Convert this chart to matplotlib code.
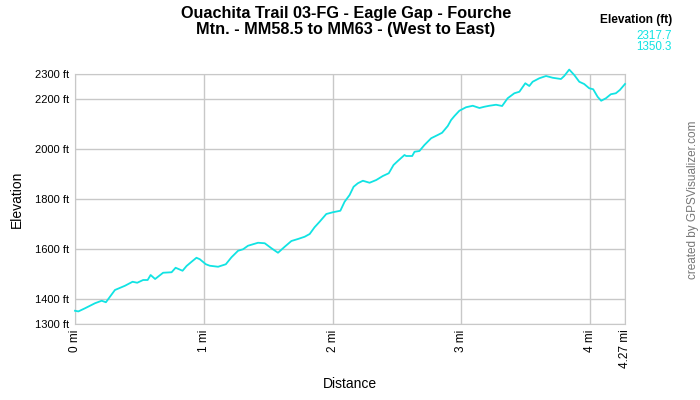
import matplotlib
matplotlib.use("Agg")
import matplotlib.pyplot as plt

# distance (mi) and elevation (ft)
dist = [0.000, 0.026, 0.078, 0.155, 0.207, 0.240, 0.310, 0.388, 0.447, 0.483,
        0.529, 0.564, 0.587, 0.622, 0.684, 0.750, 0.781, 0.835, 0.866, 0.905,
        0.943, 0.969, 1.016, 1.047, 1.111, 1.171, 1.215, 1.266, 1.305, 1.343,
        1.421, 1.473, 1.525, 1.576, 1.628, 1.680, 1.731, 1.783, 1.822, 1.860,
        1.899, 1.951, 2.002, 2.060, 2.093, 2.132, 2.163, 2.196, 2.235, 2.287,
        2.339, 2.390, 2.436, 2.473, 2.506, 2.558, 2.571, 2.618, 2.636, 2.674,
        2.713, 2.765, 2.816, 2.850, 2.894, 2.920, 2.946, 2.984, 3.036, 3.088,
        3.140, 3.178, 3.217, 3.269, 3.316, 3.359, 3.411, 3.450, 3.496, 3.527,
        3.553, 3.605, 3.657, 3.708, 3.773, 3.798, 3.837, 3.876, 3.915, 3.953,
        3.992, 4.023, 4.057, 4.085, 4.122, 4.160, 4.199, 4.230, 4.270]
elev = [1353, 1350.3, 1363, 1383, 1393, 1387, 1436, 1453, 1469, 1465,
        1476, 1476, 1496, 1480, 1505, 1507, 1525, 1513, 1532, 1549,
        1565, 1559, 1539, 1533, 1529, 1539, 1567, 1593, 1599, 1613,
        1625, 1623, 1603, 1585, 1609, 1632, 1640, 1649, 1660, 1687,
        1709, 1740, 1747, 1753, 1789, 1816, 1849, 1863, 1873, 1865,
        1876, 1892, 1903, 1936, 1952, 1976, 1972, 1972, 1989, 1992,
        2016, 2043, 2056, 2065, 2092, 2116, 2132, 2153, 2167, 2173,
        2164, 2169, 2173, 2177, 2172, 2203, 2223, 2229, 2263, 2252,
        2269, 2283, 2292, 2285, 2280, 2292, 2317.7, 2296, 2269, 2260,
        2243, 2239, 2209, 2193, 2203, 2219, 2223, 2236, 2260]

yticks = [1300, 1400, 1600, 1800, 2000, 2200, 2300]
xticks = [0, 1, 2, 3, 4, 4.27]
xlabels = ["0 mi", "1 mi", "2 mi", "3 mi", "4 mi", "4.27 mi"]

plt.rcParams["font.family"] = ["Liberation Sans", "DejaVu Sans"]

fig = plt.figure(figsize=(7, 4), dpi=100)
ax = fig.add_axes([75 / 700, 1 - 324 / 400, 550 / 700, 250 / 400])

line_c = "#11e3e3"
grid_c = "#c8c8c8"

ax.plot(dist, elev, color=line_c, lw=1.3, clip_on=False, zorder=3)
ax.set_xlim(0, 4.27)
ax.set_ylim(1300, 2300)

ax.set_yticks(yticks)
ax.set_yticklabels([f"{v} ft" for v in yticks])
ax.set_xticks(xticks)
ax.set_xticklabels(xlabels, rotation=90)
ax.tick_params(length=0, labelsize=8, pad=4)
ax.tick_params(axis="x", labelsize=8.5)
ax.grid(True, color=grid_c, lw=1)
for s in ax.spines.values():
    s.set_color(grid_c)

ax.set_xlabel("Distance", fontsize=10, labelpad=6)
ax.set_ylabel("Elevation", fontsize=10, labelpad=8)

fig.text(0.494, 0.985, "Ouachita Trail 03-FG - Eagle Gap - Fourche\nMtn. - MM58.5 to MM63 - (West to East)",
         ha="center", va="top", fontsize=11.7, fontweight="bold", linespacing=1.1)

fig.text(672 / 700, 1 - 20.5 / 400, "Elevation (ft)", ha="right", va="center",
         fontsize=8.6, fontweight="bold")
fig.text(672 / 700, 1 - 36 / 400, f"{max(elev):.1f}", ha="right", va="center",
         fontsize=8.4, color=line_c)
fig.text(672 / 700, 1 - 47.5 / 400, f"{min(elev):.1f}", ha="right", va="center",
         fontsize=8.4, color=line_c)
fig.text(693 / 700, 0.5, "created by GPSVisualizer.com", rotation=90,
         ha="center", va="center", fontsize=8.5, color="#777777")

fig.savefig("out.png", dpi=100)
